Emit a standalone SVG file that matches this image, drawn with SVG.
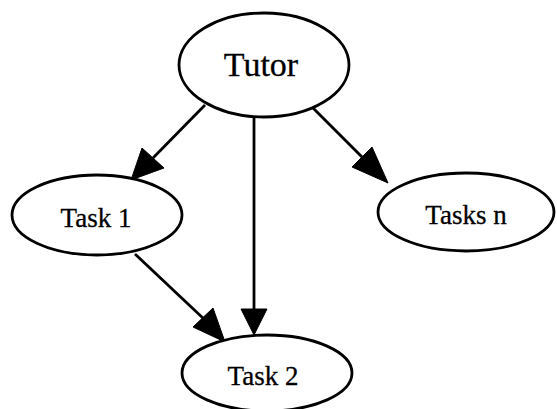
<svg xmlns="http://www.w3.org/2000/svg" width="557" height="409" viewBox="0 0 557 409">
  <style>
    .node ellipse { fill: #ffffff; stroke: #000000; stroke-width: 2.8; }
    .node text { font-family: "Liberation Serif", "Times New Roman", serif; text-anchor: middle; fill: #000000; stroke: #000000; stroke-width: 0.3; }
    .edge line { stroke: #000000; stroke-width: 2.8; }
    .edge polygon { fill: #000000; stroke: #000000; stroke-width: 1; }
  </style>
  <rect width="557" height="409" fill="#ffffff"/>

  <!-- connectors -->
  <g id="edges" class="edge">
    <!-- Tutor -> Task 1 -->
    <line x1="205" y1="105" x2="150" y2="161"/>
    <polygon points="131,180 142,148 164,168"/>
    <!-- Tutor -> Task 2 -->
    <line x1="254" y1="117" x2="254" y2="312"/>
    <polygon points="254,335 241,309 267,309"/>
    <!-- Task 1 -> Task 2 -->
    <line x1="135" y1="254" x2="205" y2="320"/>
    <polygon points="225,342 193,327 213,308"/>
    <!-- Tutor -> Tasks n -->
    <line x1="313" y1="108" x2="365" y2="160"/>
    <polygon points="388,183 352,167 372,147"/>
  </g>

  <!-- nodes -->
  <g id="tutor" class="node">
    <ellipse cx="264" cy="65" rx="85" ry="52"/>
    <text x="261" y="76" font-size="34">Tutor</text>
  </g>
  <g id="task1" class="node">
    <ellipse cx="97" cy="215" rx="85" ry="40"/>
    <text x="96" y="227" font-size="27">Task 1</text>
  </g>
  <g id="tasksn" class="node">
    <ellipse cx="466" cy="212" rx="88" ry="39"/>
    <text x="466" y="224" font-size="27">Tasks n</text>
  </g>
  <g id="task2" class="node">
    <ellipse cx="267" cy="373" rx="85" ry="38"/>
    <text x="263" y="385" font-size="27">Task 2</text>
  </g>
</svg>
